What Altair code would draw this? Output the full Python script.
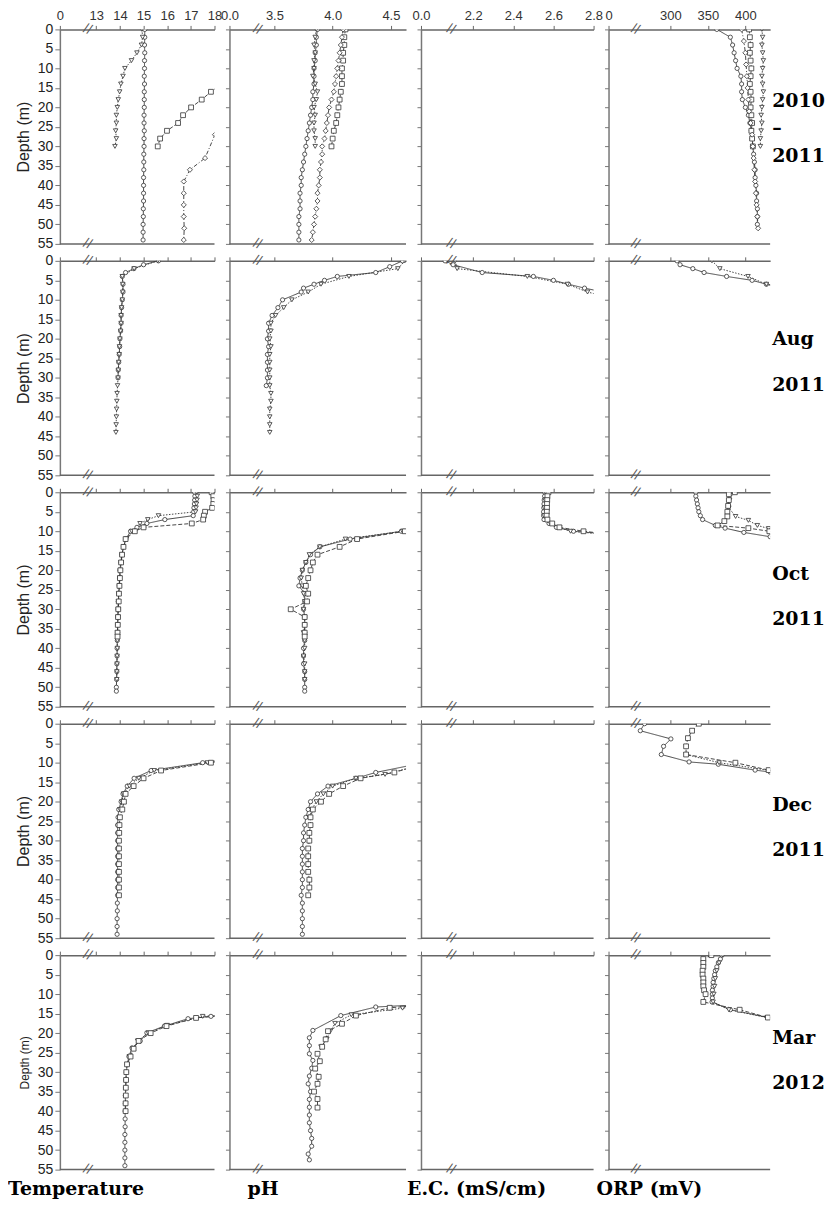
import altair as alt
import pandas as pd

# ---------------- data ----------------
# Row A : 2010 - 2011
A_T_CIR_D = [0, 2, 4, 6, 8, 10, 12, 14, 16, 18, 20, 22, 24, 26, 28, 30, 32, 34, 36, 38, 40, 42, 44, 46, 48, 50, 52, 54]
A_T_CIR_V = [15.05, 15.05, 15.04, 15.05, 15.04, 15.04, 15.03, 15.04, 15.03, 15.03, 15.03, 15.02, 15.02, 15.03,
             15.02, 15.02, 15.01, 15.01, 15.01, 15.0, 15.0, 15.0, 15.0, 14.99, 14.99, 14.98, 14.98, 14.98]
A_T_TRI_D = [0, 2, 4, 6, 8, 10, 12, 14, 16, 18, 20, 22, 24, 26, 28, 30]
A_T_TRI_V = [14.93, 14.96, 14.91, 14.72, 14.49, 14.21, 14.13, 14.04, 13.99, 13.93, 13.89, 13.85, 13.85, 13.82, 13.85, 13.79]
A_T_SQR_D = [10, 12, 14, 16, 18, 20, 22, 24, 26, 28, 30]
A_T_SQR_V = [19.4, 18.9, 18.3, 17.85, 17.46, 17.01, 16.67, 16.46, 15.99, 15.7, 15.6]
A_T_DIA_D = [21, 24, 27, 33, 36, 39, 42, 45, 48, 51, 54]
A_T_DIA_V = [19.2, 18.6, 18.02, 17.6, 16.96, 16.7, 16.7, 16.7, 16.7, 16.72, 16.7]

A_PH_CIR_D = [0, 2, 4, 6, 8, 10, 12, 14, 16, 18, 20, 22, 24, 26, 28, 30, 32, 34, 36, 38, 40, 42, 44, 46, 48, 50, 52, 54]
A_PH_CIR_V = [3.87, 3.86, 3.86, 3.85, 3.85, 3.84, 3.84, 3.84, 3.83, 3.83, 3.82, 3.81, 3.80, 3.79, 3.78, 3.77,
              3.76, 3.75, 3.74, 3.73, 3.73, 3.72, 3.72, 3.72, 3.71, 3.71, 3.71, 3.71]
A_PH_TRI_D = [0, 2, 4, 6, 8, 10, 12, 14, 16, 18, 20, 22, 24, 26, 28, 30]
A_PH_TRI_V = [3.86, 3.85, 3.84, 3.85, 3.84, 3.84, 3.83, 3.85, 3.87, 3.86, 3.84, 3.85, 3.84, 3.84, 3.85, 3.85]
A_PH_SQR_D = [0, 2, 4, 6, 8, 10, 12, 14, 16, 18, 20, 22, 24, 26, 28, 30]
A_PH_SQR_V = [4.11, 4.10, 4.10, 4.09, 4.09, 4.08, 4.08, 4.08, 4.07, 4.06, 4.05, 4.04, 4.03, 4.01, 4.00, 3.99]
A_PH_DIA_D = [0, 2, 4, 6, 8, 10, 12, 14, 16, 18, 20, 22, 24, 26, 28, 30, 32, 34, 36, 38, 40, 42, 44, 46, 48, 50, 52, 54]
A_PH_DIA_V = [4.09, 4.08, 4.07, 4.06, 4.05, 4.04, 4.03, 4.02, 4.01, 3.99, 3.97, 3.96, 3.95, 3.94, 3.93, 3.91,
              3.91, 3.90, 3.89, 3.89, 3.88, 3.87, 3.87, 3.86, 3.85, 3.84, 3.83, 3.82]

A_ORP_CIR_D = [0, 2, 4, 6, 8, 10, 12, 14, 16, 18, 20, 22, 24, 26, 28, 30, 32, 34, 36, 38, 40, 42, 44, 46, 48, 50]
A_ORP_CIR_V = [362, 380, 383, 385, 387, 389, 394, 395, 395, 396, 400, 404, 406, 408, 409, 410, 411, 412, 413,
               413, 414, 415, 415, 416, 416, 416]
A_ORP_TRI_D = [0, 2, 4, 6, 8, 10, 12, 14, 16, 18, 20, 22, 24, 26, 28, 30]
A_ORP_TRI_V = [422, 423, 422, 423, 424, 423, 422, 423, 424, 423, 422, 421, 422, 421, 420, 420]
A_ORP_SQR_D = [0, 2, 4, 6, 8, 10, 12, 14, 16, 18, 20, 22, 24, 26, 28, 30]
A_ORP_SQR_V = [405, 406, 407, 406, 407, 408, 407, 406, 407, 408, 407, 408, 409, 408, 409, 410]
A_ORP_DIA_D = [0, 3, 6, 9, 12, 15, 18, 21, 24, 27, 30, 33, 36, 39, 42, 45, 48, 51]
A_ORP_DIA_V = [395, 398, 400, 401, 402, 403, 404, 405, 407, 409, 410, 411, 412, 413, 414, 415, 416, 417]

# Row B : Aug 2011
B_T_CIR_D = [0, 1, 2, 3, 4, 6, 8, 10, 12, 14, 16, 18, 20, 22, 24, 26, 28, 30]
B_T_CIR_V = [15.63, 15.0, 14.59, 14.24, 14.1, 14.13, 14.13, 14.1, 14.07, 14.05, 14.05, 14.03, 14.0, 13.99,
             13.97, 13.95, 13.93, 13.92]
B_T_TRI_D = [0, 2, 4, 6, 8, 10, 12, 14, 16, 18, 20, 22, 24, 26, 28, 30, 32, 34, 36, 38, 40, 42, 44]
B_T_TRI_V = [15.6, 14.6, 14.1, 14.12, 14.12, 14.1, 14.07, 14.05, 14.05, 14.03, 14.0, 13.98, 13.97, 13.95,
             13.93, 13.92, 13.9, 13.88, 13.87, 13.86, 13.85, 13.84, 13.83]
B_PH_CIR_D = [0, 1.5, 3, 4, 5, 6, 7, 8, 10, 12, 14, 16, 18, 20, 22, 24, 26, 28, 30, 32]
B_PH_CIR_V = [4.60, 4.49, 4.37, 4.04, 3.93, 3.84, 3.75, 3.73, 3.57, 3.53, 3.48, 3.45, 3.45, 3.44, 3.45, 3.44,
              3.44, 3.44, 3.44, 3.43]
B_PH_TRI_D = [0, 2, 4, 6, 8, 10, 12, 14, 16, 18, 20, 22, 24, 26, 28, 30, 32, 34, 36, 38, 40, 42, 44]
B_PH_TRI_V = [4.62, 4.56, 4.14, 3.90, 3.79, 3.65, 3.58, 3.51, 3.47, 3.47, 3.46, 3.47, 3.46, 3.46, 3.46, 3.46,
              3.46, 3.47, 3.47, 3.46, 3.46, 3.46, 3.46]
B_EC_CIR_D = [0, 1, 3, 4, 5, 6, 7, 8]
B_EC_CIR_V = [2.06, 2.10, 2.245, 2.50, 2.60, 2.675, 2.755, 2.85]
B_EC_TRI_D = [0, 2, 4, 6, 8, 9]
B_EC_TRI_V = [2.11, 2.12, 2.47, 2.67, 2.77, 2.85]
B_ORP_CIR_D = [0, 1, 2, 3, 4, 5, 6, 7]
B_ORP_CIR_V = [309, 313, 330, 345, 375, 409, 428, 455]
B_ORP_TRI_D = [0, 2, 4, 6, 7]
B_ORP_TRI_V = [355.5, 366, 403.5, 428, 455]

# Row C : Oct 2011
C_T_CIR_D = [0, 1, 2, 3, 4, 5, 6, 7, 8, 9, 10, 12, 14, 16, 18, 20, 22, 24, 26, 28, 30, 32, 34, 36, 38, 40,
             42, 44, 46, 48, 50, 51]
C_T_CIR_V = [17.16, 17.17, 17.16, 17.15, 17.13, 17.12, 17.1, 15.9, 15.14, 14.72, 14.45, 14.25, 14.15, 14.08,
             14.04, 14.0, 13.98, 13.97, 13.95, 13.93, 13.92, 13.91, 13.9, 13.9, 13.89, 13.88, 13.88, 13.87,
             13.87, 13.86, 13.85, 13.85]
C_T_TRI_D = [0, 1, 2, 3, 4, 5, 6, 7, 8, 10, 12, 14, 16, 18, 20, 22, 24, 26, 28, 30, 32, 34, 36, 38, 40, 42,
             44, 46, 48]
C_T_TRI_V = [17.25, 17.27, 17.26, 17.24, 17.22, 17.2, 15.63, 15.18, 14.85, 14.5, 14.27, 14.15, 14.09, 14.05,
             14.02, 13.99, 13.97, 13.95, 13.94, 13.93, 13.92, 13.91, 13.9, 13.89, 13.89, 13.88, 13.88, 13.87,
             13.87]
C_T_SQR_D = [0, 1, 2, 3, 4, 5, 6, 7, 8, 9, 10, 12, 14, 16, 18, 20, 22, 24, 26, 28, 30, 32, 34, 36, 37]
C_T_SQR_V = [17.88, 17.95, 17.96, 17.95, 17.9, 17.6, 17.55, 17.52, 17.04, 15.0, 14.63, 14.24, 14.15, 14.09,
             14.05, 14.02, 14.0, 13.98, 13.96, 13.95, 13.93, 13.92, 13.91, 13.9, 13.9]
C_PH_CIR_D = [9, 10, 12, 14, 16, 18, 20, 22, 24, 26, 28, 30, 32, 34, 36, 38, 40, 42, 44, 46, 48, 50, 51]
C_PH_CIR_V = [5.0, 4.59, 4.15, 3.89, 3.81, 3.77, 3.74, 3.72, 3.71, 3.76, 3.76, 3.75, 3.76, 3.76, 3.76, 3.76,
              3.75, 3.75, 3.75, 3.76, 3.76, 3.76, 3.76]
C_PH_TRI_D = [10, 12, 14, 16, 18, 20, 22, 24, 26, 28, 30, 32, 34, 36, 38, 40, 42, 44, 46, 48]
C_PH_TRI_V = [4.6, 4.11, 3.89, 3.80, 3.77, 3.74, 3.73, 3.74, 3.75, 3.76, 3.75, 3.76, 3.76, 3.75, 3.76, 3.76,
              3.75, 3.76, 3.76, 3.76]
C_PH_SQR_D = [10, 12, 14, 16, 18, 20, 22, 24, 26, 28, 30, 32, 34, 36, 37]
C_PH_SQR_V = [4.62, 4.21, 4.06, 3.87, 3.83, 3.81, 3.79, 3.77, 3.79, 3.78, 3.64, 3.76, 3.76, 3.76, 3.76]
C_EC_CIR_D = [0, 1, 2, 3, 4, 5, 6, 7, 8, 9, 10, 10.5]
C_EC_CIR_V = [2.557, 2.556, 2.554, 2.553, 2.552, 2.551, 2.551, 2.553, 2.578, 2.615, 2.70, 2.82]
C_EC_TRI_D = [0, 2, 4, 6, 8, 9, 10, 10.6]
C_EC_TRI_V = [2.56, 2.558, 2.555, 2.553, 2.585, 2.63, 2.685, 2.82]
C_EC_SQR_D = [0, 1, 2, 3, 4, 5, 6, 7, 8, 9, 10, 10.4]
C_EC_SQR_V = [2.575, 2.57, 2.569, 2.568, 2.568, 2.567, 2.566, 2.57, 2.594, 2.63, 2.75, 2.82]
C_ORP_CIR_D = [0, 1, 2, 3, 4, 5, 6, 7, 8.5, 9.2, 10.3, 11.4, 12]
C_ORP_CIR_V = [334, 334, 335, 336, 337, 338, 340, 343, 360, 373, 398, 433, 445]
C_ORP_TRI_D = [0, 2, 4, 6.2, 7.2, 8.5, 9.3, 10]
C_ORP_TRI_V = [384, 379, 378, 387, 404, 416, 431, 445]
C_ORP_SQR_D = [0, 0.5, 2, 3.5, 5, 6.2, 7.4, 8.5, 9.2, 10, 10.6]
C_ORP_SQR_V = [386, 378, 378, 377, 376, 376, 372, 363, 404, 432, 445]

# Row D : Dec 2011
D_T_CIR_D = [9, 10, 12, 14, 16, 18, 20, 22, 24, 26, 28, 30, 32, 34, 36, 38, 40, 42, 44, 46, 48, 50, 52, 54]
D_T_CIR_V = [18.6, 17.5, 15.32, 14.6, 14.31, 14.13, 14.05, 13.95, 13.92, 13.9, 13.9, 13.9, 13.9, 13.9, 13.9,
             13.9, 13.9, 13.9, 13.9, 13.89, 13.89, 13.88, 13.88, 13.88]
D_T_TRI_D = [9.5, 10, 12, 14, 16, 18, 20, 22]
D_T_TRI_V = [18.4, 17.7, 15.45, 14.8, 14.4, 14.15, 14.08, 14.0]
D_T_SQR_D = [9.5, 10, 12, 14, 16, 18, 20, 22, 24, 26, 28, 30, 32, 34, 36, 38, 40, 42, 44]
D_T_SQR_V = [18.3, 17.85, 15.74, 15.0, 14.58, 14.24, 14.17, 14.1, 14.0, 13.98, 13.97, 13.96, 13.96, 13.96,
             13.96, 13.96, 13.96, 13.96, 13.96]
D_PH_CIR_D = [10.5, 12.5, 14, 16, 18, 20, 22, 24, 26, 28, 30, 32, 34, 36, 38, 40, 42, 44, 46, 48, 50, 52, 54]
D_PH_CIR_V = [4.7, 4.37, 4.2, 3.96, 3.87, 3.81, 3.79, 3.77, 3.76, 3.75, 3.75, 3.74, 3.74, 3.74, 3.74, 3.74,
              3.74, 3.73, 3.74, 3.74, 3.74, 3.74, 3.74]
D_PH_TRI_D = [11, 13, 14, 16, 18, 20, 22, 24]
D_PH_TRI_V = [4.7, 4.45, 4.2, 4.0, 3.92, 3.86, 3.82, 3.80]
D_PH_SQR_D = [11, 12.5, 14, 16, 18, 20, 22, 24, 26, 28, 30, 32, 34, 36, 38, 40, 42, 44]
D_PH_SQR_V = [4.7, 4.53, 4.24, 4.09, 3.97, 3.90, 3.83, 3.81, 3.81, 3.8, 3.8, 3.79, 3.79, 3.79, 3.79, 3.8,
              3.8, 3.79]
D_ORP_CIR_D = [0, 1.8, 3.9, 5.8, 7.9, 9.8, 10.4, 11.9, 12.4, 13]
D_ORP_CIR_V = [265.7, 260, 300.8, 291, 288, 325, 364, 413, 433, 450]
D_ORP_TRI_D = [7.9, 10, 12, 12.5]
D_ORP_TRI_V = [321, 365, 432, 445]
D_ORP_SQR_D = [0, 1.8, 3.7, 5.8, 7.9, 10, 11.9, 12.5]
D_ORP_SQR_V = [338, 329, 323.5, 321, 321, 386.7, 431, 445]

# Row E : Mar 2012
E_T_CIR_D = [15.5, 15.7, 16.3, 18.2, 19.9, 22, 23.8, 26, 28, 30, 32, 34, 36, 38, 40, 42, 44, 46, 48, 50, 52, 54]
E_T_CIR_V = [18.5, 17.85, 16.88, 15.88, 15.14, 14.86, 14.51, 14.38, 14.31, 14.27, 14.25, 14.24, 14.23, 14.23,
             14.22, 14.22, 14.22, 14.21, 14.21, 14.21, 14.21, 14.21]
E_T_TRI_D = [15.4, 15.7, 18, 20, 22, 24, 26]
E_T_TRI_V = [18.4, 17.5, 16.0, 15.2, 14.75, 14.55, 14.4]
E_T_SQR_D = [15.5, 16.1, 18.2, 20, 22, 24, 26, 28, 30, 32, 34, 36, 38, 40]
E_T_SQR_V = [18.3, 17.22, 15.97, 15.3, 14.79, 14.58, 14.45, 14.3, 14.27, 14.26, 14.25, 14.25, 14.24, 14.24]
E_PH_CIR_D = [12.8, 13.3, 15.5, 19.3, 21.2, 23.2, 25.3, 27, 29, 31, 33, 35, 37, 39, 41, 43, 45, 47, 49, 51, 52.5]
E_PH_CIR_V = [4.7, 4.37, 4.07, 3.83, 3.80, 3.80, 3.80, 3.83, 3.82, 3.80, 3.79, 3.81, 3.80, 3.80, 3.80, 3.80,
              3.81, 3.82, 3.82, 3.79, 3.80]
E_PH_TRI_D = [13.2, 13.6, 15.3, 17.5, 19.5, 21.5, 23.5]
E_PH_TRI_V = [4.7, 4.6, 4.16, 4.02, 3.98, 3.95, 3.90]
E_PH_SQR_D = [13, 13.5, 15.5, 17.6, 19.5, 21.6, 23.5, 25.3, 27.2, 29.1, 31.2, 33, 35, 36.9, 39.1]
E_PH_SQR_V = [4.7, 4.49, 4.2, 4.08, 3.96, 3.94, 3.91, 3.87, 3.89, 3.85, 3.88, 3.87, 3.84, 3.87, 3.87]
E_ORP_CIR_D = [0, 1, 2, 3, 4, 5, 6, 7, 8, 9, 10, 11, 12, 14, 16]
E_ORP_CIR_V = [368.9, 366.7, 364, 362, 360, 359, 358, 357, 357, 356, 356, 356, 355.6, 380, 430]
E_ORP_TRI_D = [0, 2, 4, 6, 8, 10, 12, 14, 16]
E_ORP_TRI_V = [370, 365, 362, 360, 359, 358, 357, 378, 429]
E_ORP_SQR_D = [0, 1, 2, 3, 4, 5, 6, 7, 8, 9, 10, 12, 14, 16]
E_ORP_SQR_V = [354.7, 344, 344, 344, 343, 343, 344, 344, 344, 345, 347, 344, 392.4, 430]

# axis definitions
TEMP_TICKS = [11.46, 13, 14, 15, 16, 17, 18]
TEMP_LABELS = ["0", "13", "14", "15", "16", "17", "18"]
PH_TICKS = [3.114, 3.5, 4.0, 4.5]
PH_LABELS = ["0.0", "3.5", "4.0", "4.5"]
EC_TICKS = [1.94, 2.2, 2.4, 2.6, 2.8]
EC_LABELS = ["0.0", "2.2", "2.4", "2.6", "2.8"]
ORP_TICKS = [217.7, 300, 350, 400]
ORP_LABELS = ["0", "300", "350", "400"]
DEPTH_TICKS = [0, 5, 10, 15, 20, 25, 30, 35, 40, 45, 50, 55]

ROW_LABELS = [["2010", "–", "2011"], ["Aug", "2011"], ["Oct", "2011"], ["Dec", "2011"], ["Mar", "2012"]]
ROW_LABEL_Y = [[78, 105, 133], [84, 130], [88, 133], [88, 133], [89, 134]]
COL_TITLES = ["Temperature", "pH", "E.C. (mS/cm)", "ORP (mV)"]
COL_TITLE_X = [-52, 18, -14, -12]

# ---------------- layout / styling ----------------
COLS = [
    dict(domain=[11.46, 18.0], ticks=TEMP_TICKS, labels=TEMP_LABELS, brk=12.63, width=155),
    dict(domain=[3.114, 4.63], ticks=PH_TICKS, labels=PH_LABELS, brk=3.354, width=177),
    dict(domain=[1.94, 2.8], ticks=EC_TICKS, labels=EC_LABELS, brk=2.09, width=173),
    dict(domain=[217.7, 433.0], ticks=ORP_TICKS, labels=ORP_LABELS, brk=253.6, width=162),
]
H = 215
SERIES = ["circle", "triangle", "square", "diamond"]
DASHES = [[1, 0], [1.5, 1.5], [4, 2], [4, 2, 1, 2]]
SHAPES = ["circle", "triangle-down", "square", "diamond"]
SIZES = [18, 26, 26, 24]

G = globals()
ROW_KEYS = ["A", "B", "C", "D", "E"]
COL_KEYS = ["T", "PH", "EC", "ORP"]
SER_KEYS = ["CIR", "TRI", "SQR", "DIA"]


def panel_frame(r, c):
    rows = []
    for s, sk in zip(SERIES, SER_KEYS):
        name = f"{ROW_KEYS[r]}_{COL_KEYS[c]}_{sk}"
        if name + "_D" in G:
            for d, v in zip(G[name + "_D"], G[name + "_V"]):
                rows.append({"series": s, "depth": d, "v": v})
    return pd.DataFrame(rows)


def label_expr(vals, labs):
    expr = "''"
    for v, l in reversed(list(zip(vals, labs))):
        expr = f"abs(datum.value - {v}) < 1e-6 ? '{l}' : {expr}"
    return expr


def make_panel(r, c):
    col = COLS[c]
    xscale = alt.Scale(domain=col["domain"], nice=False, zero=False)
    yscale = alt.Scale(domain=[0, 55], reverse=True, nice=False, zero=False)
    x_enc = alt.X("v:Q", scale=xscale, axis=alt.Axis(
        orient="top", values=col["ticks"], labelExpr=label_expr(col["ticks"], col["labels"]),
        labels=(r == 0), title=None, grid=False, tickSize=4, tickColor="#666",
        domainColor="#666", domainWidth=1.5, labelFontSize=13, labelPadding=3,
        labelColor="#333", labelOverlap=False, labelFlush=False))
    y_axis = dict(values=DEPTH_TICKS, grid=False, labels=(c == 0), tickSize=5 if c == 0 else 4,
                  tickColor="#777", domainColor="#777", domainWidth=1.5, labelFontSize=14,
                  labelPadding=2, labelColor="#222")
    if c == 0:
        y_axis.update(title="Depth (m)", titleFontSize=12 if r == 4 else 16,
                      titleFontWeight="normal", titlePadding=6, titleColor="#222")
    else:
        y_axis.update(title=None)
    y_enc = alt.Y("depth:Q", scale=yscale, axis=alt.Axis(**y_axis))

    lo, hi = col["domain"]
    base_rule = alt.Chart(pd.DataFrame({"v": [lo], "v2": [hi], "depth": [55]})).mark_rule(
        color="#666", strokeWidth=1.5).encode(x=x_enc, x2="v2", y=y_enc)
    brk = alt.Chart(pd.DataFrame({"v": [col["brk"], col["brk"]], "depth": [0, 55]})).mark_text(
        text="//", fontSize=14, color="#555", angle=20, font="Liberation Sans").encode(x=x_enc, y=y_enc)
    layers = [base_rule, brk]

    df = panel_frame(r, c)
    if len(df):
        dash = alt.StrokeDash("series:N", scale=alt.Scale(domain=SERIES, range=DASHES), legend=None)
        lines = alt.Chart(df).mark_line(clip=True, color="#333", strokeWidth=0.9).encode(
            x=x_enc, y=y_enc, strokeDash=dash, detail="series:N", order=alt.Order("depth:Q"))
        pts = alt.Chart(df).mark_point(clip=True, filled=True, fill="white", stroke="#333",
                                       strokeWidth=0.8, opacity=1).encode(
            x=x_enc, y=y_enc,
            shape=alt.Shape("series:N", scale=alt.Scale(domain=SERIES, range=SHAPES), legend=None),
            size=alt.Size("series:N", scale=alt.Scale(domain=SERIES, range=SIZES), legend=None))
        layers += [lines, pts]

    if c == 3:
        for txt, yy in zip(ROW_LABELS[r], ROW_LABEL_Y[r]):
            layers.append(alt.Chart(pd.DataFrame({"t": [txt]})).mark_text(
                align="left", baseline="alphabetic", font="DejaVu Serif", fontWeight="bold",
                fontSize=19, color="black").encode(
                text="t:N", x=alt.value(col["width"] + 2), y=alt.value(yy)))
    if r == 4:
        layers.append(alt.Chart(pd.DataFrame({"t": [COL_TITLES[c]]})).mark_text(
            align="left", baseline="alphabetic", font="DejaVu Serif", fontWeight="bold",
            fontSize=19, color="black").encode(
            text="t:N", x=alt.value(COL_TITLE_X[c]), y=alt.value(H + 25)))

    return alt.layer(*layers).properties(width=col["width"], height=H)


panels = [make_panel(r, c) for r in range(5) for c in range(4)]

chart = alt.concat(*panels, columns=4, spacing={"row": 17, "column": 15}, bounds="flush",
                   padding=0, background="white").configure_view(stroke=None).configure_axis(
    labelFont="Liberation Sans", titleFont="Liberation Sans")

chart.save("out.html", embed_options={"renderer": "svg", "actions": False})
